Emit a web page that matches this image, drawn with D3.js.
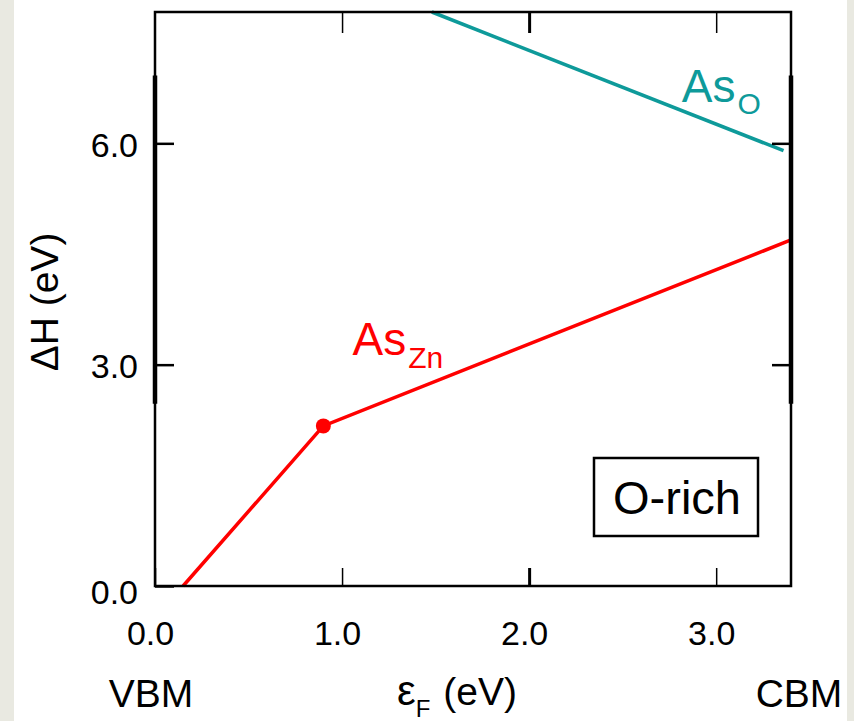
<!DOCTYPE html>
<html>
<head>
<meta charset="utf-8">
<script src="https://cdn.jsdelivr.net/npm/d3@7"></script>
<style>
  body { margin: 0; background: #ffffff; }
  svg { display: block; font-family: "Liberation Sans", Arial, sans-serif; }
</style>
</head>
<body>
<svg id="chart"></svg>
<script>
// data (eV)
var xTicks = [0, 1, 2, 3];
var xTickLabels = ['0.0', '1.0', '2.0', '3.0'];
var yTicks = [0, 3, 6];
var yTickLabels = ['0.0', '3.0', '6.0'];
var asZnLine = [[0.15, 0], [0.90, 2.17], [3.4, 4.69]];
var asZnKink = [[0.90, 2.17]];
var asOLine = [[1.48, 7.78], [3.36, 5.90]];
var thickSpan = [2.47, 6.92];

var width = 854, height = 721;
var margin = { left: 155, right: 63, top: 12, bottom: 135 };

var svg = d3.select('#chart')
  .attr('width', width)
  .attr('height', height);

// side strips
svg.append('rect').attr('x', 0).attr('y', 0).attr('width', 14).attr('height', height).attr('fill', '#e9e9e1');
svg.append('rect').attr('x', 847).attr('y', 0).attr('width', 7).attr('height', height).attr('fill', '#e9e9e1');

var xScale = d3.scaleLinear()
  .domain([0, 3.4])
  .range([margin.left, width - margin.right]);

var yScale = d3.scaleLinear()
  .domain([0, 7.78])
  .range([height - margin.bottom, margin.top]);

var x0 = xScale.range()[0], x1 = xScale.range()[1];
var y0 = yScale.range()[0], y1 = yScale.range()[1];

// data lines
var line = d3.line()
  .x(function (d) { return xScale(d[0]); })
  .y(function (d) { return yScale(d[1]); });

svg.append('path')
  .datum(asOLine)
  .attr('fill', 'none')
  .attr('stroke', '#0e9a9a')
  .attr('stroke-width', 3.5)
  .attr('d', line);

svg.append('path')
  .datum(asZnLine)
  .attr('fill', 'none')
  .attr('stroke', '#ff0000')
  .attr('stroke-width', 3.5)
  .attr('d', line);

svg.selectAll('circle.kink')
  .data(asZnKink)
  .enter()
  .append('circle')
  .attr('class', 'kink')
  .attr('cx', function (d) { return xScale(d[0]); })
  .attr('cy', function (d) { return yScale(d[1]); })
  .attr('r', 7.5)
  .attr('fill', '#ff0000');

// frame
svg.append('rect')
  .attr('x', x0)
  .attr('y', y1)
  .attr('width', x1 - x0)
  .attr('height', y0 - y1)
  .attr('fill', 'none')
  .attr('stroke', '#000')
  .attr('stroke-width', 2.5);

[x0, x1].forEach(function (xx) {
  svg.append('line')
    .attr('x1', xx).attr('x2', xx)
    .attr('y1', yScale(thickSpan[0])).attr('y2', yScale(thickSpan[1]))
    .attr('stroke', '#000')
    .attr('stroke-width', 4.5);
});

// axes
var xAxis = d3.axisBottom(xScale)
  .tickValues(xTicks)
  .tickFormat(function (d, i) { return xTickLabels[i]; })
  .tickSizeInner(-18)
  .tickSizeOuter(0)
  .tickPadding(35);

var gx = svg.append('g')
  .attr('transform', 'translate(0,' + y0 + ')')
  .call(xAxis);

var gxTop = svg.append('g')
  .attr('transform', 'translate(0,' + y1 + ')')
  .call(d3.axisTop(xScale).tickValues(xTicks.slice(1)).tickFormat('').tickSizeInner(-21).tickSizeOuter(0));

var yAxis = d3.axisLeft(yScale)
  .tickValues(yTicks)
  .tickFormat(function (d, i) { return yTickLabels[i]; })
  .tickSizeInner(-19)
  .tickSizeOuter(0)
  .tickPadding(17);

var gy = svg.append('g')
  .attr('transform', 'translate(' + x0 + ',0)')
  .call(yAxis);

var gyRight = svg.append('g')
  .attr('transform', 'translate(' + x1 + ',0)')
  .call(d3.axisRight(yScale).tickValues(yTicks.slice(1)).tickFormat('').tickSizeInner(-19).tickSizeOuter(0));

[gx, gxTop, gy, gyRight].forEach(function (g) {
  g.select('.domain').remove();
  g.selectAll('line').attr('stroke', '#000');
});
[gx, gxTop].forEach(function (g) {
  g.selectAll('.tick line').attr('stroke-width', function (d) { return d === 2 ? 3 : 1.5; });
});
[gy, gyRight].forEach(function (g) {
  g.selectAll('.tick line').attr('stroke-width', 2.5);
});

gx.selectAll('text')
  .attr('fill', '#000')
  .attr('font-size', 34)
  .attr('font-family', '"Liberation Sans", Arial, sans-serif')
  .attr('dx', -5);

gy.selectAll('text')
  .attr('fill', '#000')
  .attr('font-size', 34)
  .attr('font-family', '"Liberation Sans", Arial, sans-serif')
  .attr('dy', function (d) { return d === 0 ? '0.5em' : '0.38em'; });

// axis titles
svg.append('text')
  .attr('transform', 'translate(58,302) rotate(-90)')
  .attr('text-anchor', 'middle')
  .attr('font-size', 39)
  .text('ΔH (eV)');

var xt = svg.append('text')
  .attr('x', 397)
  .attr('y', 705)
  .attr('font-size', 39);
xt.append('tspan').attr('font-size', 42).text('ε');
xt.append('tspan').attr('font-size', 24).attr('dy', 12).text('F');
xt.append('tspan').attr('dy', -12).attr('dx', 2).text(' (eV)');

svg.append('text')
  .attr('x', xScale(0) - 4)
  .attr('y', 707)
  .attr('text-anchor', 'middle')
  .attr('font-size', 39)
  .text('VBM');

svg.append('text')
  .attr('x', xScale(3.4) + 8)
  .attr('y', 707)
  .attr('text-anchor', 'middle')
  .attr('font-size', 39)
  .text('CBM');

// series labels
var t1 = svg.append('text')
  .attr('x', xScale(1.056))
  .attr('y', yScale(3.13))
  .attr('fill', '#ff0000')
  .attr('font-size', 46);
t1.append('tspan').text('As');
t1.append('tspan').attr('font-size', 30).attr('dy', 13).attr('dx', 2).text('Zn');

var t2 = svg.append('text')
  .attr('x', xScale(2.816))
  .attr('y', yScale(6.56))
  .attr('fill', '#0e9a9a')
  .attr('font-size', 46);
t2.append('tspan').text('As');
t2.append('tspan').attr('font-size', 30).attr('dy', 12).attr('dx', 2).text('O');

// condition box
svg.append('rect')
  .attr('x', 594)
  .attr('y', 458)
  .attr('width', 164)
  .attr('height', 78)
  .attr('fill', '#fff')
  .attr('stroke', '#000')
  .attr('stroke-width', 2.5);

svg.append('text')
  .attr('x', 677)
  .attr('y', 514)
  .attr('text-anchor', 'middle')
  .attr('font-size', 47)
  .text('O-rich');
</script>
</body>
</html>
